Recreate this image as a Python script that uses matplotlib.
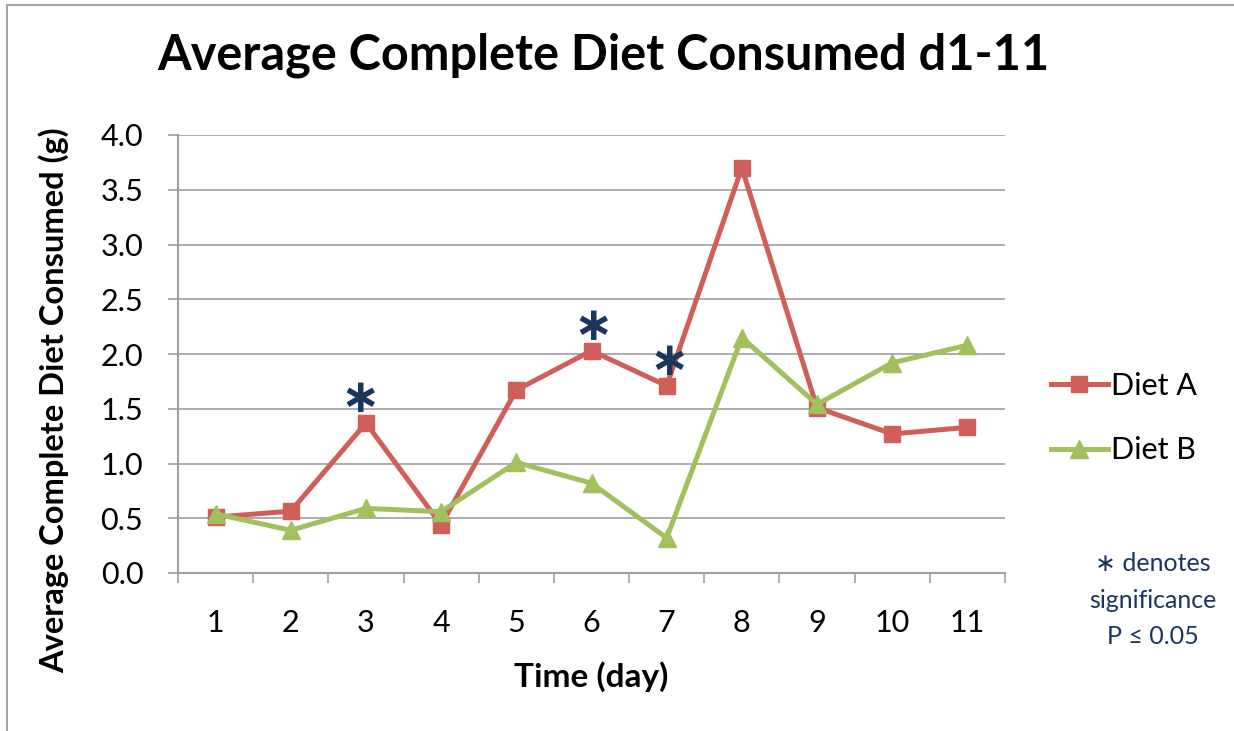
import numpy as np
import matplotlib
matplotlib.use("Agg")
import matplotlib.pyplot as plt
from matplotlib.lines import Line2D

plt.rcParams["font.family"] = ["Lato", "DejaVu Sans"]

# ── data ──────────────────────────────────────────────────────────────────────
days   = [1, 2, 3, 4, 5, 6, 7, 8, 9, 10, 11]
diet_a = [0.51, 0.565, 1.37, 0.44, 1.67, 2.03, 1.71, 3.70, 1.51, 1.27, 1.33]
diet_b = [0.54, 0.39, 0.59, 0.56, 1.01, 0.82, 0.32, 2.15, 1.54, 1.92, 2.08]
sig_days = [3, 6, 7]
sig_dx   = [-0.08, 0.02, 0.03]

RED   = "#CF5F58"
GREEN = "#A2C05E"
NAVY  = "#1B365D"
GRID  = "#A0A0A0"

W, H = 1234, 731
fig = plt.figure(figsize=(W / 100, H / 100), dpi=100)
ax = fig.add_axes([178 / W, 1 - 573 / H, (1005 - 178) / W, (573 - 135) / H])

ax.plot(days, diet_a, color=RED, lw=3.6, marker="s", ms=11.5,
        mec=RED, mfc=RED, label="Diet A", zorder=3)
ax.plot(days, diet_b, color=GREEN, lw=3.6, marker="^", ms=12.5,
        mec=GREEN, mfc=GREEN, label="Diet B", zorder=4)

# significance markers above Diet A
for d, dx in zip(sig_days, sig_dx):
    ax.text(d + dx, diet_a[days.index(d)] + 0.21, "\u2217",
            ha="center", va="center", fontsize=34, fontweight="bold",
            color=NAVY, family="DejaVu Sans", zorder=5)

ax.set_xlim(0.5, 11.5)
ax.set_ylim(0, 4.0)
ax.set_yticks(np.arange(0, 4.01, 0.5))
ax.set_yticklabels([f"{v:.1f}" for v in np.arange(0, 4.01, 0.5)])
ax.yaxis.grid(True, color=GRID, lw=1.2)
ax.set_axisbelow(True)

# category axis: ticks between days, labels at centres
ax.set_xticks(np.arange(0.5, 11.6, 1.0))
ax.set_xticklabels([])
ax.set_xticks(days, minor=True)
ax.set_xticklabels([str(d) for d in days], minor=True)
ax.tick_params(axis="x", which="major", length=7, width=1.2, color=GRID,
               direction="out")
ax.tick_params(axis="x", which="minor", length=0, pad=26, labelsize=22)
ax.tick_params(axis="y", length=7, width=1.2, color=GRID, pad=18,
               labelsize=22)

for s in ("top", "right"):
    ax.spines[s].set_visible(False)
for s in ("left", "bottom"):
    ax.spines[s].set_color(GRID)
    ax.spines[s].set_linewidth(1.5)

ax.set_xlabel("Time (day)", fontsize=24, fontweight="bold", labelpad=17)
ax.set_ylabel("Average Complete Diet Consumed (g)", fontsize=23.5,
              fontweight="bold", va="center")
ax.yaxis.set_label_coords(54 / W, 1 - 400 / H, transform=fig.transFigure)

fig.text(603 / W, 1 - 55 / H, "Average Complete Diet Consumed d1-11",
         ha="center", va="center", fontsize=35, fontweight="bold")

fig.legend(loc="center left", bbox_to_anchor=(1051 / W, 1 - 418 / H),
           frameon=False, fontsize=22, borderpad=0, borderaxespad=0,
           handlelength=1.85, handletextpad=0.1, labelspacing=1.2)

fig.text(1153 / W, 1 - 600 / H, "\u2217 denotes\nsignificance\nP \u2264 0.05",
         ha="center", va="center", fontsize=18, color=NAVY, linespacing=1.7)

# outer chart frame (top and left edges only visible)
fig.add_artist(Line2D([7 / W, 7 / W], [0, 1 - 5 / H], color="#A6A6A6",
                      lw=1.5, transform=fig.transFigure))
fig.add_artist(Line2D([7 / W, 1], [1 - 5 / H, 1 - 5 / H], color="#A6A6A6",
                      lw=1.5, transform=fig.transFigure))

fig.savefig("out.png", dpi=100)
